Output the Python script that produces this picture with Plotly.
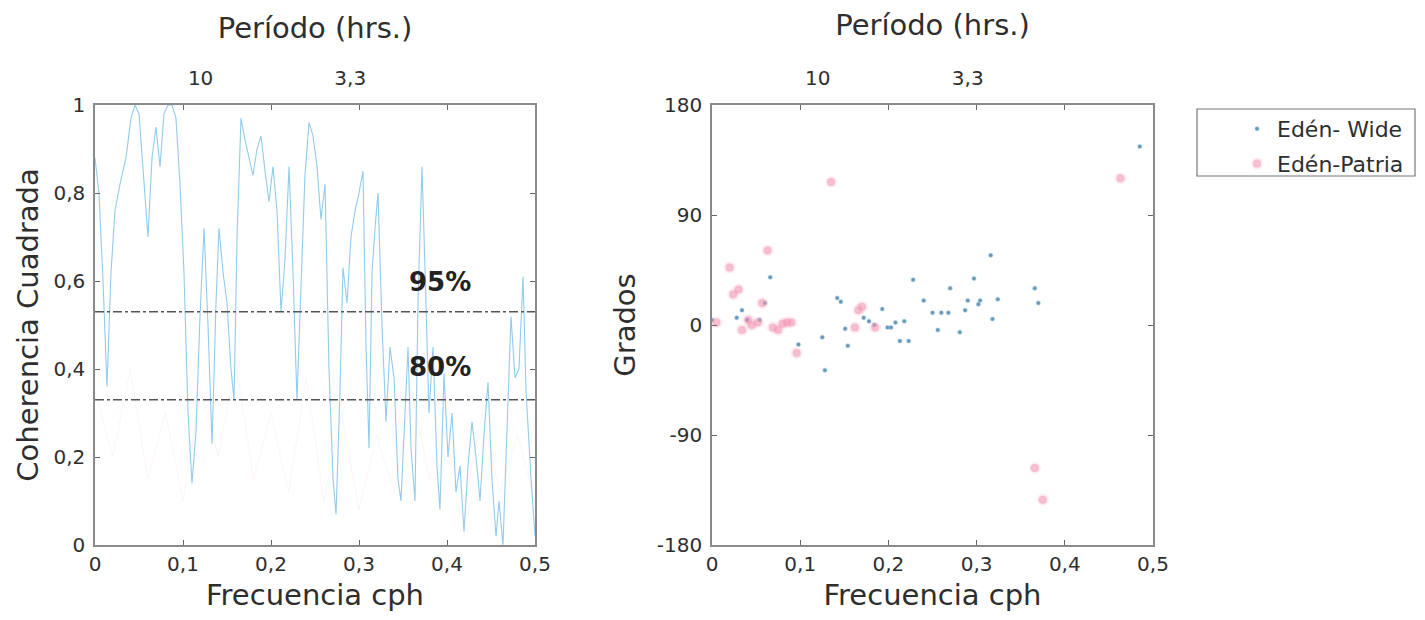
import plotly.graph_objects as go

# ---------------- data ----------------
# Left panel: squared coherence, Edén - Wide (blue)
coh_freq = [0.0000, 0.0045, 0.0091, 0.0136, 0.0182, 0.0227, 0.0284, 0.0352, 0.0409, 0.0455,
            0.0500, 0.0545, 0.0602, 0.0648, 0.0693, 0.0739, 0.0784, 0.0830, 0.0875, 0.0920,
            0.0966, 0.1011, 0.1057, 0.1102, 0.1148, 0.1193, 0.1239, 0.1284, 0.1330, 0.1375,
            0.1409, 0.1455, 0.1500, 0.1545, 0.1580, 0.1614, 0.1659, 0.1705, 0.1750, 0.1795,
            0.1841, 0.1886, 0.1932, 0.1977, 0.2023, 0.2068, 0.2114, 0.2159, 0.2205, 0.2250,
            0.2295, 0.2341, 0.2386, 0.2432, 0.2477, 0.2523, 0.2568, 0.2614, 0.2659, 0.2705,
            0.2739, 0.2784, 0.2818, 0.2864, 0.2909, 0.2955, 0.3000, 0.3045, 0.3080, 0.3114,
            0.3148, 0.3182, 0.3216, 0.3261, 0.3307, 0.3352, 0.3398, 0.3443, 0.3477, 0.3523,
            0.3557, 0.3591, 0.3636, 0.3670, 0.3716, 0.3761, 0.3795, 0.3841, 0.3886, 0.3920,
            0.3966, 0.4011, 0.4057, 0.4102, 0.4148, 0.4193, 0.4239, 0.4284, 0.4330, 0.4375,
            0.4420, 0.4466, 0.4511, 0.4557, 0.4591, 0.4636, 0.4682, 0.4727, 0.4773, 0.4818,
            0.4864, 0.4898, 0.4955, 0.5000]
coh_wide = [0.88, 0.80, 0.60, 0.36, 0.62, 0.76, 0.82, 0.88, 0.97, 1.00,
            0.98, 0.85, 0.70, 0.88, 0.95, 0.86, 0.98, 1.00, 1.00, 0.97,
            0.82, 0.62, 0.30, 0.14, 0.26, 0.52, 0.72, 0.50, 0.23, 0.55,
            0.72, 0.62, 0.55, 0.40, 0.33, 0.70, 0.97, 0.92, 0.88, 0.84,
            0.90, 0.93, 0.85, 0.78, 0.86, 0.76, 0.53, 0.65, 0.86, 0.62,
            0.33, 0.58, 0.84, 0.96, 0.93, 0.86, 0.74, 0.82, 0.40, 0.15,
            0.07, 0.35, 0.63, 0.55, 0.70, 0.76, 0.80, 0.85, 0.45, 0.22,
            0.62, 0.72, 0.80, 0.50, 0.28, 0.45, 0.38, 0.15, 0.10, 0.30,
            0.45, 0.22, 0.10, 0.55, 0.86, 0.55, 0.30, 0.45, 0.18, 0.08,
            0.39, 0.20, 0.30, 0.12, 0.18, 0.03, 0.18, 0.28, 0.20, 0.10,
            0.25, 0.37, 0.15, 0.02, 0.10, 0.00, 0.25, 0.52, 0.38, 0.40,
            0.61, 0.35, 0.15, 0.02]

# Left panel: squared coherence, Edén - Patria (very faint pink)
cohp_freq = [0.00, 0.02, 0.04, 0.06, 0.08, 0.10, 0.12, 0.14, 0.16, 0.18, 0.20, 0.22, 0.24,
             0.26, 0.28, 0.30, 0.32, 0.34, 0.36, 0.38, 0.40, 0.42, 0.44, 0.46, 0.48, 0.50]
coh_patria = [0.35, 0.20, 0.40, 0.15, 0.30, 0.10, 0.35, 0.20, 0.42, 0.15, 0.30, 0.12, 0.38,
              0.10, 0.30, 0.08, 0.25, 0.12, 0.35, 0.15, 0.28, 0.10, 0.30, 0.12, 0.25, 0.10]

conf_levels = [0.53, 0.33]
conf_labels = ["95%", "80%"]
conf_label_pos = [(0.392, 0.598), (0.392, 0.405)]

# Right panel: phase (degrees)
wide_freq = [0.000, 0.028, 0.034, 0.040, 0.054, 0.060, 0.066, 0.098, 0.125, 0.128,
             0.142, 0.146, 0.151, 0.154, 0.172, 0.178, 0.184, 0.193, 0.199, 0.203,
             0.208, 0.213, 0.218, 0.223, 0.228, 0.240, 0.250, 0.256, 0.260, 0.268,
             0.270, 0.281, 0.287, 0.290, 0.297, 0.302, 0.304, 0.316, 0.318, 0.324,
             0.366, 0.370, 0.485]
wide_phase = [4, 6, 12, 4, 4, 18, 39, -16, -10, -37,
              22, 19, -3, -17, 6, 3, 0, 13, -2, -2,
              2, -13, 3, -13, 37, 20, 10, -4, 10, 10,
              30, -6, 12, 20, 38, 17, 20, 57, 5, 21,
              30, 18, 146]

patria_freq = [0.005, 0.020, 0.024, 0.030, 0.034, 0.041, 0.045, 0.052, 0.057, 0.063,
               0.069, 0.075, 0.080, 0.085, 0.090, 0.096, 0.135, 0.162, 0.166, 0.170,
               0.185, 0.366, 0.375, 0.463]
patria_phase = [2, 47, 25, 29, -4, 4, 0, 2, 18, 61,
                -2, -4, 1, 2, 2, -23, 117, -2, 12, 15,
                -2, -117, -143, 120]

x_ticks = [0, 0.1, 0.2, 0.3, 0.4, 0.5]
x_tick_text = ["0", "0,1", "0,2", "0,3", "0,4", "0,5"]
coh_ticks = [0, 0.2, 0.4, 0.6, 0.8, 1]
coh_tick_text = ["0", "0,2", "0,4", "0,6", "0,8", "1"]
period_tick_pos = [0.12, 0.29]
period_tick_text = ["10", "3,3"]
phase_ticks = [-180, -90, 0, 90, 180]
phase_tick_text = ["-180", "-90", "0", "90", "180"]

# ---------------- figure ----------------
FONT = "DejaVu Sans, Arial, sans-serif"
TXT = "#2e2e2e"
AXC = "#8a8a8a"
TITLE_SIZE = 29
TICK_SIZE = 20

# page has an 8px body margin; figure sized to fit the window
OFF = 8
W, H = 1425 - 2 * OFF, 620 - 2 * OFF


def px(x):
    return (x - OFF) / W


def py(y):
    return 1 - (y - OFF) / H


fig = go.Figure()

fig.add_trace(go.Scatter(x=cohp_freq, y=coh_patria, mode="lines",
                         line=dict(color="rgba(244,150,180,0.10)", width=1),
                         showlegend=False, xaxis="x", yaxis="y", hoverinfo="skip"))
fig.add_trace(go.Scatter(x=coh_freq, y=coh_wide, mode="lines",
                         line=dict(color="#92cbec", width=1.1),
                         showlegend=False, xaxis="x", yaxis="y"))

fig.add_trace(go.Scatter(x=wide_freq, y=wide_phase, mode="markers", name="Edén- Wide",
                         legendgroup="a",
                         marker=dict(color="rgba(80,130,165,0.85)", size=4,
                                     line=dict(width=1.5, color="rgba(150,200,230,0.35)")),
                         xaxis="x2", yaxis="y2"))
fig.add_trace(go.Scatter(x=patria_freq, y=patria_phase, mode="markers", name="Edén-Patria",
                         legendgroup="b",
                         marker=dict(color="rgba(240,140,170,0.55)", size=8,
                                     line=dict(width=4, color="rgba(245,170,195,0.22)")),
                         xaxis="x2", yaxis="y2"))

# confidence lines
shapes = []
for lv in conf_levels:
    shapes.append(dict(type="line", xref="x", yref="y", x0=0, x1=0.5, y0=lv, y1=lv,
                       line=dict(color="#555555", width=1.4, dash="dashdot")))
# legend frame
shapes.append(dict(type="rect", xref="paper", yref="paper",
                   x0=px(1197), x1=px(1415), y0=py(176), y1=py(109),
                   line=dict(color="#777777", width=1.2), fillcolor="rgba(0,0,0,0)"))

annotations = []
for txt, (ax_, ay_) in zip(conf_labels, conf_label_pos):
    annotations.append(dict(x=ax_, y=ay_, xref="x", yref="y", text="<b>%s</b>" % txt,
                            showarrow=False, font=dict(size=26, color="#222222", family=FONT)))

dom_y = [py(545), py(105)]
dom_x1 = [px(95), px(535)]
dom_x2 = [px(712), px(1153)]

common_axis = dict(showline=True, linecolor=AXC, linewidth=1.5, mirror="ticks",
                   ticks="inside", ticklen=5, tickcolor="#666666", showgrid=False,
                   zeroline=False, automargin=False,
                   tickfont=dict(size=TICK_SIZE, color=TXT, family=FONT))

top_axis = dict(side="top", showline=False, showgrid=False, zeroline=False, automargin=False,
                tickvals=period_tick_pos, ticktext=period_tick_text,
                ticks="outside", ticklen=11, tickcolor="rgba(0,0,0,0)",
                tickfont=dict(size=TICK_SIZE, color=TXT, family=FONT), range=[0, 0.5])


def ttl(text, standoff):
    return dict(text=text, font=dict(size=TITLE_SIZE, color=TXT, family=FONT), standoff=standoff)


fig.update_layout(
    width=W, height=H,
    margin=dict(l=0, r=0, t=0, b=0),
    paper_bgcolor="white", plot_bgcolor="white",
    font=dict(family=FONT, color=TXT),
    shapes=shapes, annotations=annotations,
    xaxis=dict(domain=dom_x1, range=[0, 0.5], tickvals=x_ticks, ticktext=x_tick_text,
               **common_axis, title=ttl("Frecuencia cph", 12)),
    yaxis=dict(domain=dom_y, range=[0, 1], tickvals=coh_ticks, ticktext=coh_tick_text,
               ticklabelstandoff=4, **common_axis, title=ttl("Coherencia Cuadrada", 6)),
    xaxis2=dict(domain=dom_x2, range=[0, 0.5], tickvals=x_ticks, ticktext=x_tick_text,
                anchor="y2", **common_axis, title=ttl("Frecuencia cph", 12)),
    yaxis2=dict(domain=dom_y, range=[-180, 180], tickvals=phase_ticks, ticktext=phase_tick_text,
                anchor="x2", ticklabelstandoff=4, **common_axis, title=ttl("Grados", 13)),
    xaxis3=dict(overlaying="x", anchor="y", **top_axis, title=ttl("Período (hrs.)", 18)),
    xaxis4=dict(overlaying="x2", anchor="y2", **top_axis, title=ttl("Período (hrs.)", 26)),
    legend=dict(x=px(1237), y=py(108), xanchor="left", yanchor="top",
                bgcolor="rgba(0,0,0,0)", borderwidth=0, traceorder="grouped",
                font=dict(size=22, color=TXT, family=FONT), itemwidth=30,
                tracegroupgap=3),
)

# empty traces so the top (period) axes are rendered
fig.add_trace(go.Scatter(x=[None], y=[None], xaxis="x3", yaxis="y", showlegend=False))
fig.add_trace(go.Scatter(x=[None], y=[None], xaxis="x4", yaxis="y2", showlegend=False))

fig.write_html("out.html")
